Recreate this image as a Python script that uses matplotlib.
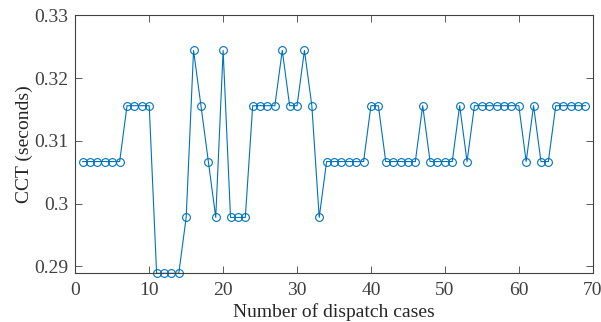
import matplotlib
matplotlib.use("Agg")
import matplotlib.pyplot as plt
import numpy as np

# CCT levels (seconds) observed in the chart
L1 = 0.2889
L2 = 0.2978
L3 = 0.3067
L4 = 0.3156
L5 = 0.3244

cct = [L3, L3, L3, L3, L3, L3,          # 1-6
       L4, L4, L4, L4,                  # 7-10
       L1, L1, L1, L1,                  # 11-14
       L2, L5, L4, L3, L2, L5,          # 15-20
       L2, L2, L2,                      # 21-23
       L4, L4, L4, L4,                  # 24-27
       L5, L4, L4, L5, L4, L2,          # 28-33
       L3, L3, L3, L3, L3, L3,          # 34-39
       L4, L4,                          # 40-41
       L3, L3, L3, L3, L3,              # 42-46
       L4,                              # 47
       L3, L3, L3, L3,                  # 48-51
       L4, L3,                          # 52-53
       L4, L4, L4, L4, L4, L4, L4,      # 54-60
       L3, L4, L3, L3,                  # 61-64
       L4, L4, L4, L4, L4]              # 65-69
cases = np.arange(1, len(cct) + 1)

xticks = [0, 10, 20, 30, 40, 50, 60, 70]
yticks = [0.29, 0.30, 0.31, 0.32, 0.33]
ytick_labels = ["0.29", "0.3", "0.31", "0.32", "0.33"]

plt.rcParams["font.family"] = ["Liberation Serif", "DejaVu Serif"]

fig = plt.figure(figsize=(6.01, 3.22), dpi=100)
ax = fig.add_axes([75.3 / 601, 1 - 273.3 / 322, (592.7 - 75.3) / 601, (273.3 - 15.3) / 322])

ax.plot(cases, cct, color="#0072BD", linewidth=0.8, marker="o", markersize=5.6,
        markerfacecolor="none", markeredgecolor="#0072BD", markeredgewidth=0.8,
        clip_on=False)

ax.set_xlim(0, 70)
ax.set_ylim(L1, 0.33)
ax.set_xticks(xticks)
ax.set_yticks(yticks)
ax.set_yticklabels(ytick_labels)

ax.set_xlabel("Number of dispatch cases", fontsize=14, color="#262626", labelpad=3)
ax.set_ylabel("CCT (seconds)", fontsize=14, color="#262626", labelpad=1)

ax.tick_params(direction="in", top=True, right=True, length=5, width=0.6,
               labelsize=14, colors="#404040", labelcolor="#404040")
ax.tick_params(axis="x", pad=6)
ax.tick_params(axis="y", pad=5)
for sp in ax.spines.values():
    sp.set_edgecolor("#404040")
    sp.set_linewidth(0.8)

fig.savefig("out.png", dpi=100)
